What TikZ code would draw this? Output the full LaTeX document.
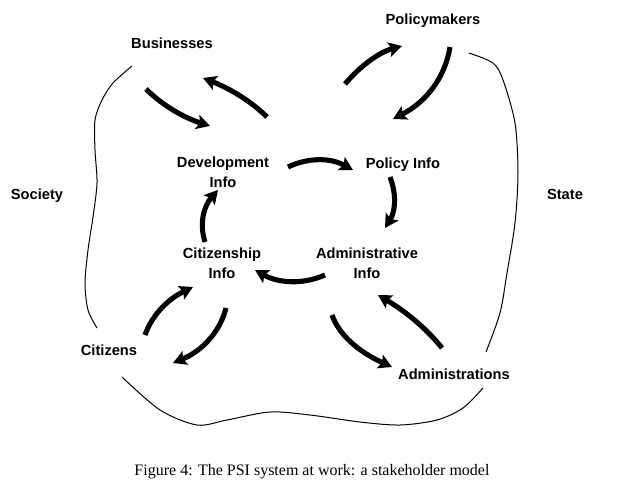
\documentclass[tikz,border=0pt]{standalone}
\usepackage{fontspec}
\setmainfont{Liberation Serif}
\newfontfamily\actorfont{Liberation Sans}
\usetikzlibrary{arrows.meta}
\tikzset{
    actor/.style={font={\actorfont\bfseries\fontsize{11}{14.3}\selectfont}, align=center, inner sep=0pt, anchor=base},
    flow/.style={line width=3.8pt, -{Stealth[length=10pt,width=11pt,inset=2pt]}},
    border/.style={line width=0.75pt}
}

\begin{document}
\begin{tikzpicture}[x=0.75pt,y=-0.75pt]
    \useasboundingbox (0,0) rectangle (626,480);

    % --- Labels ---
    \node[actor] (pol) at (433,24) {Policymakers};
    \node[actor] (biz) at (172,48) {Businesses};
    \node[actor] (devinfo) at (223,187) {Development\\Info};
    \node[actor] (polinfo) at (403,168) {Policy Info};
    \node[actor] (soc) at (37,199) {Society};
    \node[actor] (state) at (565,199) {State};
    \node[actor] (citinfo) at (222,278) {Citizenship\\Info};
    \node[actor] (adminfo) at (367,278) {Administrative\\Info};
    \node[actor] (cit) at (109,355) {Citizens};
    \node[actor] (adm) at (454,379) {Administrations};
    \node[anchor=base, inner sep=0pt, font=\fontsize{12}{14}\selectfont] (cap) at (312,475)
        {Figure 4: The PSI system at work: a stakeholder model};

    % --- Boundaries ---
    \draw[border] plot[smooth] coordinates {(132,66) (113,83) (102,100) (95,120) (95,150) (97,183)
        (93,217) (88,250) (85,283) (88,310) (97,328)};
    \draw[border] plot[smooth] coordinates {(469,53) (493,63) (503,80) (515,123) (518,173)
        (515,223) (507,273) (500,313) (486,352)};
    \draw[border] plot[smooth] coordinates {(122,377) (160,410) (197,425) (227,420) (270,412)
        (310,415) (360,422) (400,425) (437,420) (463,408) (483,388)};

    % --- Arrow ends ---
    \coordinate (bizout) at (146,89);   \coordinate (devin) at (210,126);
    \coordinate (devout) at (267,117);  \coordinate (bizin) at (203,78);
    \coordinate (polup) at (345,84);    \coordinate (polin) at (402,46);
    \coordinate (polout) at (450,47);   \coordinate (polinfoin) at (393,119);
    \coordinate (devright) at (288,167); \coordinate (polleft) at (353,170);
    \coordinate (poldown) at (390,177); \coordinate (admtop) at (385,228);
    \coordinate (admleft) at (325,275); \coordinate (citright) at (255,270);
    \coordinate (citup) at (205,242);   \coordinate (devdown) at (218,190);
    \coordinate (citout) at (145,335);  \coordinate (citinfoin) at (193,287);
    \coordinate (citinfoout) at (226,308); \coordinate (citin) at (173,363);
    \coordinate (adminfoout) at (332,315); \coordinate (admin) at (392,367);
    \coordinate (admout) at (442,348);  \coordinate (adminfoin) at (378,295);

    % --- Flows ---
    \draw[flow] (bizout) .. controls (163,106) and (185,118) .. (devin);
    \draw[flow] (devout) .. controls (252,102) and (231,89) .. (bizin);
    \draw[flow] (polup) .. controls (361,65) and (380,52) .. (polin);
    \draw[flow] (polout) .. controls (445,78) and (426,102) .. (polinfoin);
    \draw[flow] (devright) .. controls (309,157) and (331,158) .. (polleft);
    \draw[flow] (poldown) .. controls (397,195) and (395,212) .. (admtop);
    \draw[flow] (admleft) .. controls (302,285) and (278,283) .. (citright);
    \draw[flow] (citup) .. controls (199,223) and (204,206) .. (devdown);
    \draw[flow] (citout) .. controls (152,315) and (168,299) .. (citinfoin);
    \draw[flow] (citinfoout) .. controls (220,332) and (202,351) .. (citin);
    \draw[flow] (adminfoout) .. controls (339,335) and (359,352) .. (admin);
    \draw[flow] (admout) .. controls (426,328) and (405,311) .. (adminfoin);
\end{tikzpicture}
\end{document}
